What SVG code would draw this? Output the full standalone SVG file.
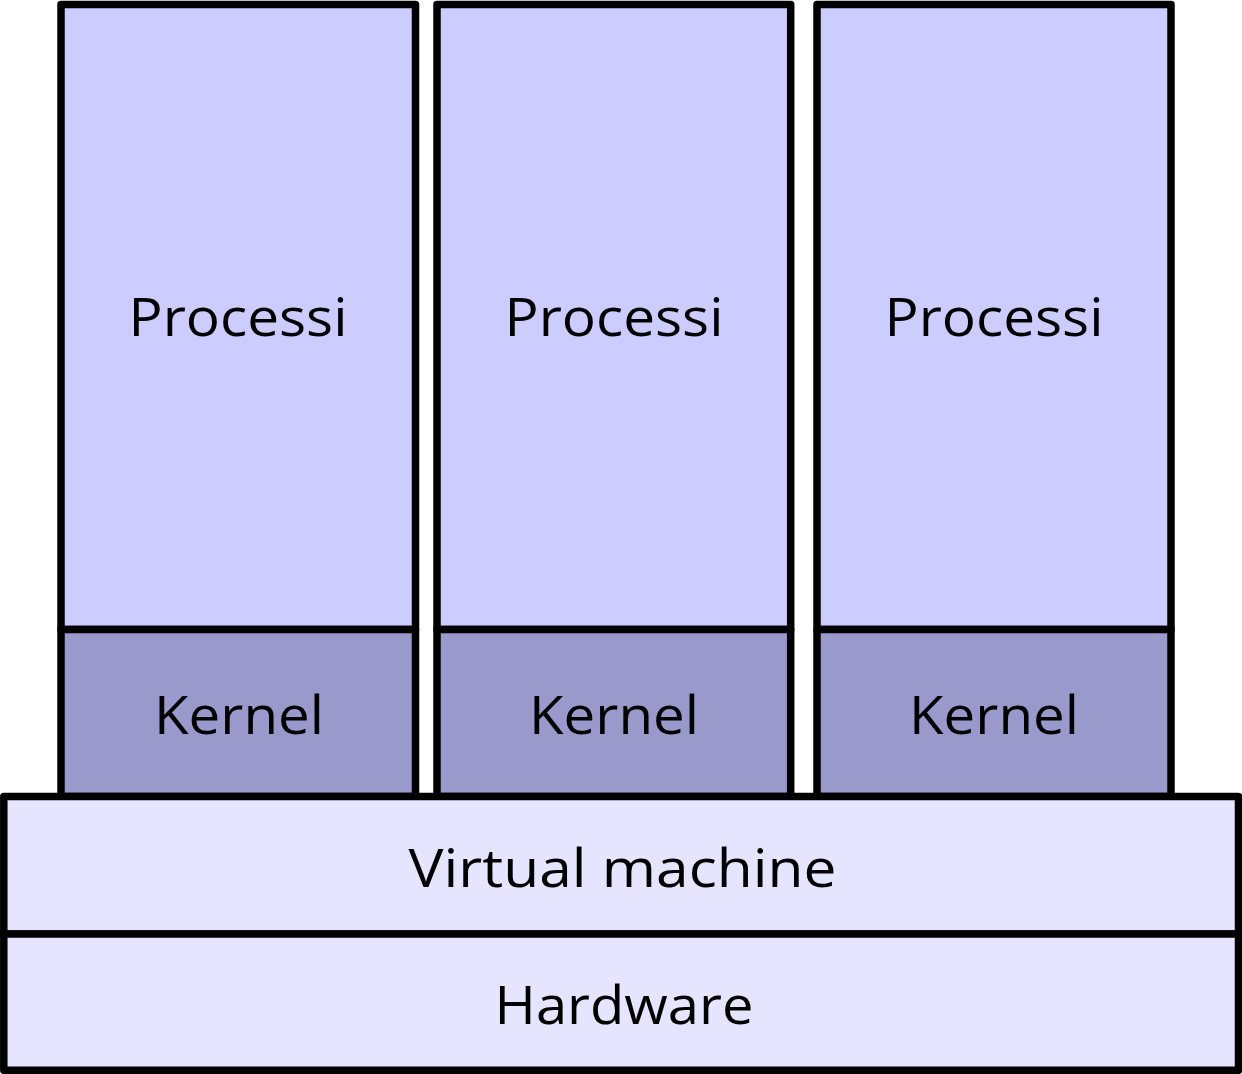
<svg xmlns="http://www.w3.org/2000/svg" width="1242" height="1074" viewBox="0 0 1242 1074">
  <style>
    .box { stroke: #000; stroke-width: 7.5; stroke-linejoin: round; }
    .proc { fill: #ccccff; }
    .kern { fill: #9999cc; }
    .base { fill: #e5e5ff; }
    .lbl { font-family: "Open Sans", "Noto Sans", "Liberation Sans", sans-serif; font-size: 53px; fill: #000; text-anchor: middle; }
  </style>
  <rect width="1242" height="1074" fill="#fff"/>

  <!-- guest stacks: processes over kernel -->
  <g id="stack1">
    <rect class="box proc" x="61" y="4.5" width="354.5" height="625"/>
    <rect class="box kern" x="61" y="629.5" width="354.5" height="167"/>
    <text class="lbl" x="238" y="336" textLength="219" lengthAdjust="spacingAndGlyphs">Processi</text>
    <text class="lbl" x="239" y="733.5" textLength="170" lengthAdjust="spacingAndGlyphs">Kernel</text>
  </g>
  <g id="stack2">
    <rect class="box proc" x="437" y="4.5" width="353.7" height="625"/>
    <rect class="box kern" x="437" y="629.5" width="353.7" height="167"/>
    <text class="lbl" x="614" y="336" textLength="219" lengthAdjust="spacingAndGlyphs">Processi</text>
    <text class="lbl" x="614" y="733.5" textLength="170" lengthAdjust="spacingAndGlyphs">Kernel</text>
  </g>
  <g id="stack3">
    <rect class="box proc" x="817" y="4.5" width="354" height="625"/>
    <rect class="box kern" x="817" y="629.5" width="354" height="167"/>
    <text class="lbl" x="994" y="336" textLength="219" lengthAdjust="spacingAndGlyphs">Processi</text>
    <text class="lbl" x="994" y="733.5" textLength="170" lengthAdjust="spacingAndGlyphs">Kernel</text>
  </g>

  <!-- shared layers -->
  <g id="vm">
    <rect class="box base" x="3.8" y="796.5" width="1234.7" height="137.5"/>
    <text class="lbl" x="622.5" y="886.5" textLength="428" lengthAdjust="spacingAndGlyphs">Virtual machine</text>
  </g>
  <g id="hardware">
    <rect class="box base" x="3.8" y="934" width="1234.7" height="136.3"/>
    <text class="lbl" x="624" y="1023.5" textLength="259" lengthAdjust="spacingAndGlyphs">Hardware</text>
  </g>

  <g id="connectors"></g>
</svg>
